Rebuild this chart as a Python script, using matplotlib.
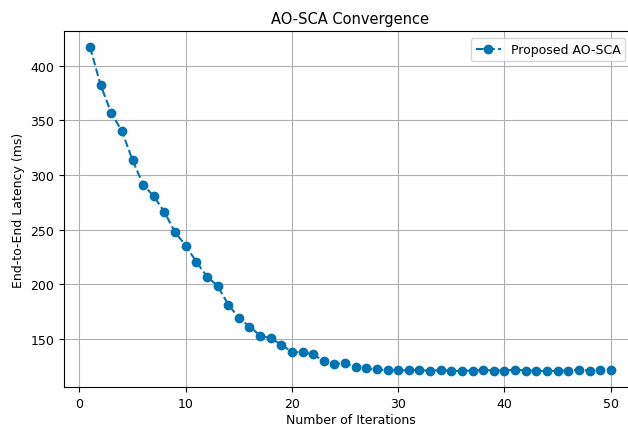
import numpy as np
import matplotlib
matplotlib.use("Agg")
import matplotlib.pyplot as plt

# Iterations and latency values (ms)
iterations = list(range(1, 51))
latency = [417, 382, 356.7, 340, 313.4, 291, 280.5, 266, 247.5, 235.4,
           220.5, 207, 198.5, 181.4, 169.2, 161.3, 153, 150.5, 144.8, 137.9,
           137.7, 135.8, 129.4, 127, 127.6, 124, 123, 122.1, 121.2, 121.2,
           121.2, 121.5, 120.6, 121.5, 120.6, 120.6, 121, 121.5, 121, 121,
           121.8, 121, 120.6, 120.6, 120.6, 121, 121.8, 121, 121.8, 121.5]

fig = plt.figure(figsize=(6.28, 4.27), dpi=100)
ax = fig.add_axes([0.102, 0.091, 0.912, 0.834])

ax.plot(iterations, latency, linestyle="--", marker="o", color="#0173b2",
        markersize=6, linewidth=1.5, label="Proposed AO-SCA")

ax.set_title("AO-SCA Convergence", fontsize=10.5)
ax.set_xlabel("Number of Iterations", fontsize=9, labelpad=2.5)
ax.set_ylabel("End-to-End Latency (ms)", fontsize=9)
ax.tick_params(labelsize=9)
ax.set_yticks([150, 200, 250, 300, 350, 400])
ax.grid(True)
ax.legend(loc="upper right", bbox_to_anchor=(0.98, 0.98), borderaxespad=0,
          fontsize=9)

fig.savefig("out.png", dpi=100)
